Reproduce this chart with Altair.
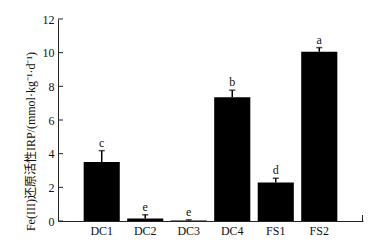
import altair as alt
import pandas as pd

categories = ["DC1", "DC2", "DC3", "DC4", "FS1", "FS2"]
values = [3.5, 0.15, 0.03, 7.35, 2.28, 10.05]
errors = [0.68, 0.22, 0.04, 0.42, 0.26, 0.25]
letters = ["c", "e", "e", "b", "d", "a"]
y_ticks = [0, 2, 4, 6, 8, 10, 12]

df = pd.DataFrame({"cat": categories, "val": values, "err": errors, "lab": letters})
df["top"] = df["val"] + df["err"]
ticks_df = pd.DataFrame({"t": y_ticks})

FONT = "Liberation Serif, 'Noto Sans CJK SC'"

xscale = alt.Scale(domain=categories, paddingInner=0.17, paddingOuter=0.59)
yscale = alt.Scale(domain=[0, 12], nice=False)

X_AXIS = alt.Axis(title=None, labelAngle=0, ticks=False, tickSize=0,
                  labelPadding=4, labelFontSize=12, labelFont=FONT,
                  labelColor="#111", domainColor="#222", domainWidth=1)
Y_AXIS = alt.Axis(title="Fe(III)还原活性IRP/(mmol·kg⁻¹·d⁻¹)", values=y_ticks,
                  ticks=False, tickSize=0, labelPadding=4, labelFontSize=12,
                  labelFont=FONT, labelColor="#111", grid=False,
                  labelOverlap=False, labelFlush=False,
                  domainColor="#222", domainWidth=1,
                  titleFont=FONT, titleFontSize=12, titleFontWeight="normal",
                  titleColor="#111", titlePadding=5, titleY=122,
                  titleAlign="center")

xo = alt.X("cat:N", scale=xscale, sort=categories, axis=X_AXIS)

bars = alt.Chart(df).mark_bar(color="black").encode(
    x=xo,
    y=alt.Y("val:Q", scale=yscale, axis=Y_AXIS),
)

err_line = alt.Chart(df).mark_rule(color="black", strokeWidth=1.5).encode(
    x=xo,
    y=alt.Y("val:Q", scale=yscale, axis=Y_AXIS),
    y2="top:Q",
)

caps = alt.Chart(df).mark_tick(color="black", size=6, thickness=1.5).encode(
    x=xo,
    y=alt.Y("top:Q", scale=yscale, axis=Y_AXIS),
)

labels = alt.Chart(df).mark_text(font=FONT, fontSize=12, color="#111",
                                 baseline="alphabetic", dy=-4).encode(
    x=xo,
    y=alt.Y("top:Q", scale=yscale, axis=Y_AXIS),
    text="lab:N",
)

inner_ticks = alt.Chart(ticks_df).mark_rule(color="#222", strokeWidth=1).encode(
    y=alt.Y("t:Q", scale=yscale, axis=Y_AXIS),
    x=alt.value(0),
    x2=alt.value(5),
)

end_tick = alt.Chart(ticks_df.head(1)).mark_rule(color="#222", strokeWidth=1).encode(
    x=alt.value(304.5),
    y=alt.value(202),
    y2=alt.value(196),
)

chart = alt.layer(bars, err_line, caps, labels, inner_ticks, end_tick).properties(
    width=305,
    height=202,
    autosize=alt.AutoSizeParams(type="none"),
    padding={"left": 58, "top": 19, "right": 22, "bottom": 26},
    background="white",
).configure_view(strokeWidth=0)

chart.save("out.html", embed_options={"renderer": "svg", "actions": False})
